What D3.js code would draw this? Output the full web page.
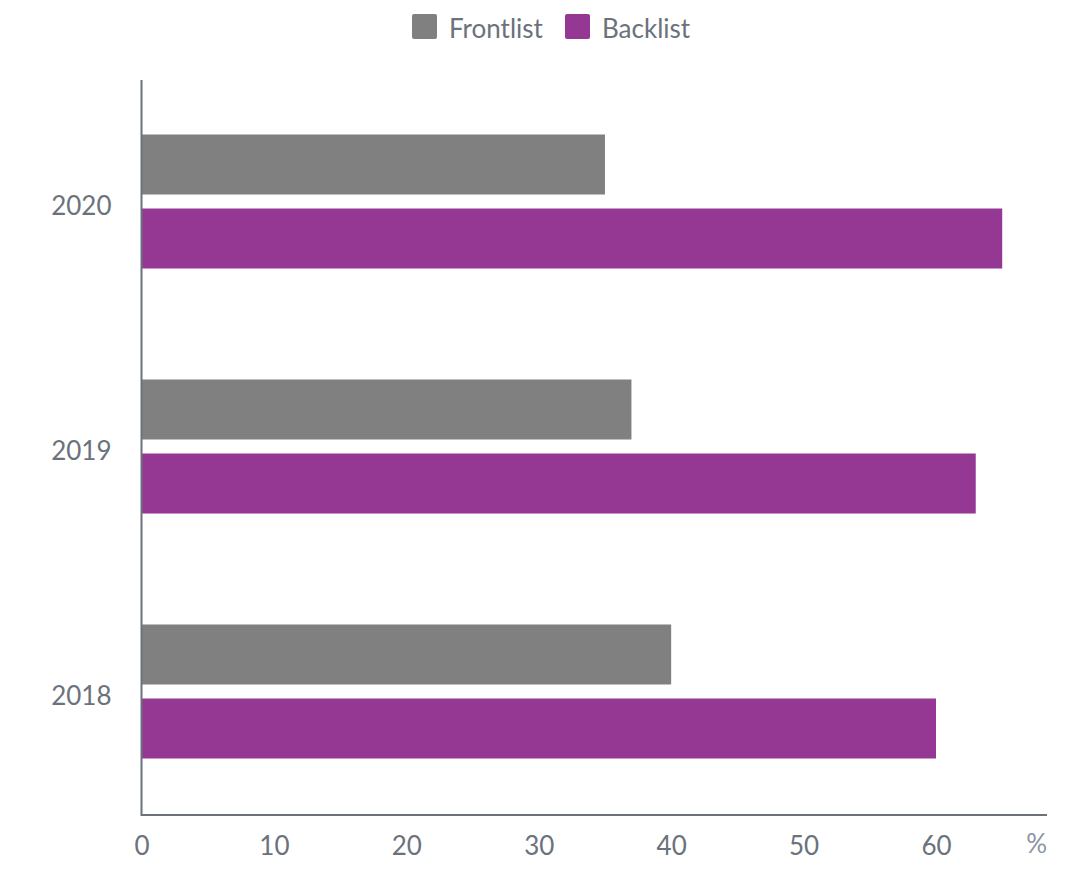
<!DOCTYPE html>
<html>
<head>
<meta charset="utf-8">
<script src="https://cdn.jsdelivr.net/npm/d3@7"></script>
<style>
  body { margin: 0; background: #fff; }
  svg { display: block; font-family: Lato, sans-serif; }
</style>
</head>
<body>
<svg id="chart" width="1070" height="882"></svg>
<script>
  // data
  var years = ['2020', '2019', '2018'];
  var series = ['Frontlist', 'Backlist'];
  var frontlist = [35, 37, 40];
  var backlist = [65, 63, 60];
  var xTicks = [0, 10, 20, 30, 40, 50, 60];
  var colors = ['#808080', '#943894'];

  var textColor = '#6b727c';
  var svg = d3.select('#chart');

  var x = d3.scaleLinear().domain([0, 60]).range([141.5, 936]);
  var xEnd = 1047;

  var y = d3.scaleBand().domain(years).range([79, 814])
    .paddingInner(0.453).paddingOuter(0.2265);

  var ySub = d3.scaleBand().domain(series).range([0, y.bandwidth()])
    .paddingInner(14 / 74);

  var color = d3.scaleOrdinal().domain(series).range(colors);

  var rows = years.map(function(yr, i) {
    return { year: yr, values: [frontlist[i], backlist[i]] };
  });

  // bars
  var groups = svg.append('g').selectAll('g')
    .data(rows)
    .join('g')
    .attr('transform', function(d) { return 'translate(0,' + y(d.year) + ')'; });

  groups.selectAll('rect')
    .data(function(d) {
      return series.map(function(s, j) { return { key: s, value: d.values[j] }; });
    })
    .join('rect')
    .attr('x', x(0))
    .attr('y', function(d) { return ySub(d.key); })
    .attr('width', function(d) { return x(d.value) - x(0); })
    .attr('height', ySub.bandwidth())
    .attr('fill', function(d) { return color(d.key); });

  // x axis
  var xAxis = svg.append('g')
    .attr('transform', 'translate(0,815)')
    .call(d3.axisBottom(x).tickValues(xTicks).tickSize(0).tickPadding(22));
  xAxis.select('.domain').remove();
  xAxis.selectAll('text')
    .attr('font-family', 'Lato, sans-serif')
    .attr('font-size', 26)
    .attr('fill', textColor);

  svg.append('line')
    .attr('x1', x(0)).attr('x2', xEnd)
    .attr('y1', 815).attr('y2', 815)
    .attr('stroke', '#6b727c').attr('stroke-width', 2);

  svg.append('text')
    .attr('x', xEnd)
    .attr('y', 853)
    .attr('text-anchor', 'end')
    .attr('font-size', 26)
    .attr('fill', '#8a95a3')
    .text('%');

  // y axis
  var yAxis = svg.append('g')
    .attr('transform', 'translate(' + x(0) + ',0)')
    .call(d3.axisLeft(y).tickSize(0).tickPadding(30));
  yAxis.select('.domain').remove();
  yAxis.selectAll('text')
    .attr('font-family', 'Lato, sans-serif')
    .attr('font-size', 26)
    .attr('fill', textColor)
    .attr('dy', '0.5em');

  svg.append('line')
    .attr('x1', x(0)).attr('x2', x(0))
    .attr('y1', 80).attr('y2', 816)
    .attr('stroke', '#6b727c').attr('stroke-width', 2);

  // legend
  var legendX = [412, 565];
  var legend = svg.append('g').selectAll('g')
    .data(series)
    .join('g')
    .attr('transform', function(d, i) { return 'translate(' + legendX[i] + ',14)'; });

  legend.append('rect')
    .attr('width', 25).attr('height', 25).attr('rx', 2)
    .attr('fill', function(d) { return color(d); });

  legend.append('text')
    .attr('x', 37).attr('y', 24)
    .attr('font-size', 26)
    .attr('fill', textColor)
    .text(function(d) { return d; });
</script>
</body>
</html>
